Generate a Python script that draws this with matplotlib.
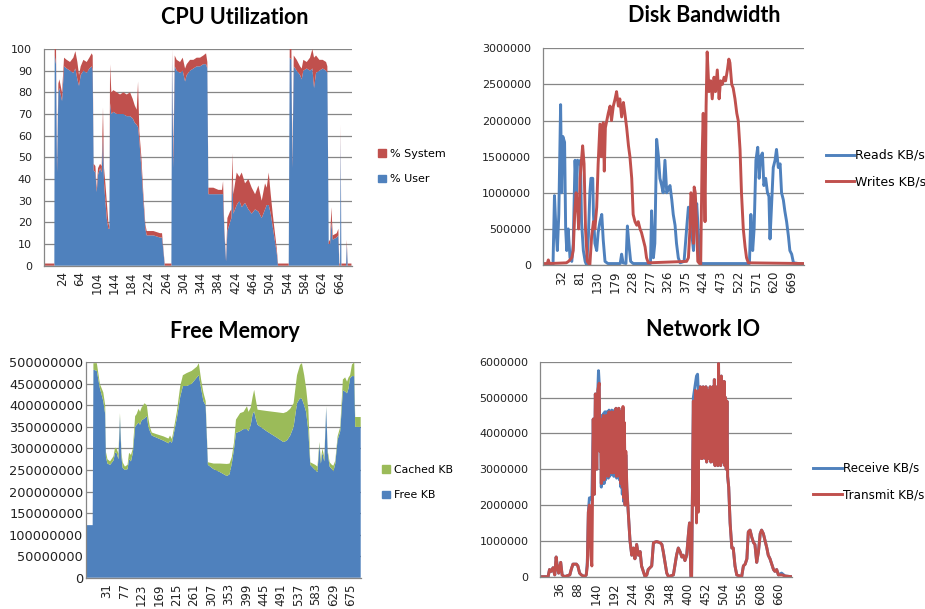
import matplotlib.pyplot as plt
from matplotlib.patches import Patch
from matplotlib.lines import Line2D

plt.rcParams.update({"font.family": "DejaVu Sans", "font.size": 8})

BLUE = "#4F81BD"
RED = "#C0504D"
GREEN = "#9BBB59"
GRID = "#868686"

# ---- CPU Utilization (percent) ----
cpu_x = [-19, 5.6, 6.4, 9.5, 11.8, 14.9, 17.2, 23.4, 28, 34.1, 41.8, 49.5, 54.2, 58.8, 62.6, 66.5,
         72.7, 80.4, 86.5, 91.9, 94.2, 96.5, 100.4, 103.5, 106.5, 111.2, 115, 118, 120.4, 123.5,
         126.6, 130.4, 132.7, 134.3, 137.3, 142, 149.7, 157.4, 165.1, 172.8, 180.5, 186.6, 191.3,
         195.9, 199, 202, 206.7, 211.3, 215.9, 219, 234.4, 249.8, 254.4, 257.5, 260.6, 276, 277.5,
         280.6, 283.7, 288.3, 296, 302.2, 307.6, 311.4, 319.1, 326.9, 334.5, 342.2, 349.9, 356.1,
         359.1, 361.5, 373, 384.6, 393, 395.4, 398.5, 402.3, 405.4, 411.5, 414.6, 416.9, 419.2,
         426.9, 433.1, 438.5, 446.2, 453.9, 461.6, 469.4, 477, 484.7, 492.4, 496.3, 500.9, 505.5,
         510.1, 514.7, 519.4, 522.4, 547.1, 549.4, 553.3, 555.6, 558.7, 565.6, 573.3, 577.1, 580.9,
         588.7, 596.3, 601.8, 605.6, 610.2, 617.9, 625.6, 633.4, 636.4, 639.5, 642.6, 645.7, 648.8,
         658, 661.8, 664.1, 665.7, 667.2, 668.8, 679.6, 681.2, 683.4, 692]
cpu_user = [0, 0, 97, 93, 43, 80, 82, 76, 92, 91, 90, 89, 91, 86, 83, 88,
            90, 89, 91, 92, 90, 44, 43, 34, 42, 45, 43, 60, 38, 30,
            22, 17, 17, 75, 70, 71, 70, 70, 70, 69, 69, 68, 66,
            65, 64, 58, 45, 30, 17, 14, 14, 13, 13, 7, 0, 0, 97,
            45, 92, 90, 89, 90, 85, 88, 90, 91, 92, 92, 93, 93,
            91, 33, 33, 33, 33, 33, 15, 2, 16, 20, 22, 40, 24,
            28, 30, 27, 29, 26, 24, 26, 25, 22, 26, 28, 28, 24,
            18, 12, 6, 0, 0, 96, 95, 45, 92, 90, 88, 86, 90,
            91, 90, 91, 82, 89, 90, 91, 90, 89, 10, 10, 20, 12,
            13, 14, 0, 0, 60, 0, 0, 10, 0, 0]
cpu_system = [1, 1, 3, 7, 4, 4, 4, 4, 4, 4, 4, 7, 8, 8, 5, 4,
              5, 5, 5, 6, 7, 3, 3, 2, 3, 2, 3, 13, 7, 8,
              8, 3, 1, 18, 10, 10, 10, 9, 10, 10, 11, 9, 8,
              7, 21, 4, 5, 3, 2, 2, 2, 2, 2, 1, 1, 1, 3,
              7, 5, 5, 5, 6, 6, 5, 5, 4, 4, 4, 4, 5,
              3, 3, 3, 2, 2, 6, 2, 1, 6, 5, 4, 12, 9,
              15, 11, 16, 9, 14, 12, 7, 12, 8, 12, 8, 15, 9,
              6, 4, 2, 1, 1, 4, 5, 3, 5, 5, 4, 5, 5,
              3, 6, 9, 14, 8, 5, 4, 4, 3, 1, 2, 7, 2,
              2, 3, 1, 1, 5, 1, 1, 2, 1, 1]
cpu_ticks = [24, 64, 104, 144, 184, 224, 264, 304, 344, 384, 424, 464, 504, 544, 584, 624, 664]

# ---- Disk Bandwidth (millions of KB/s) ----
reads_x = [-20, 8, 12, 16, 20, 24, 29, 32, 35, 40, 43, 46, 50, 55, 60, 64, 69, 73, 76, 81, 84, 87,
           92, 97, 101, 106, 110, 113, 118, 120, 124, 129, 133, 138, 143, 147, 152, 160, 194, 198,
           202, 210, 214, 218, 223, 230, 278, 281, 286, 290, 295, 300, 304, 309, 313, 318, 323, 327,
           332, 337, 341, 346, 350, 355, 360, 371, 378, 383, 387, 392, 397, 401, 406, 410, 415, 420,
           552, 556, 561, 565, 570, 575, 579, 583, 588, 592, 597, 602, 606, 609, 614, 618, 623, 627,
           632, 637, 641, 646, 650, 655, 660, 664, 669, 674, 704]
reads = [0.01, 0.01, 0.96, 0.5, 0.2, 0.7, 2.22, 1.0, 1.78, 1.7, 0.5, 0.2, 0.5, 0.1, 0.05, 0.3,
         1.45, 1.0, 1.45, 1.4, 1.45, 0.6, 0.2, 0.05, 0.0, 0.4, 1.0, 1.2, 1.2, 0.7, 0.3, 0.2, 0.45,
         0.6, 0.7, 0.35, 0.05, 0.02, 0.02, 0.15, 0.03, 0.02, 0.54, 0.3, 0.05, 0.02, 0.02, 0.75,
         0.1, 0.3, 1.74, 1.5, 1.2, 1.1, 1.0, 1.45, 1.0, 1.05, 1.1, 0.9, 0.7, 0.55, 0.3, 0.1, 0.03,
         0.05, 0.5, 0.8, 0.75, 0.45, 0.2, 0.6, 0.85, 0.5, 0.05, 0.02, 0.02, 0.7, 0.2, 0.5, 1.45,
         1.63, 1.2, 1.5, 1.55, 1.1, 1.2, 1.0, 0.95, 0.36, 0.9, 1.35, 1.45, 1.6, 1.35, 1.4, 1.0,
         0.9, 0.75, 0.6, 0.4, 0.2, 0.15, 0.03, 0.01]
writes_x = [-20, -8, -5, -2, 45, 51, 60, 64, 68, 72, 76, 79, 83, 90, 94, 98, 103, 110, 115, 120,
            124, 129, 133, 138, 142, 147, 150, 153, 157, 161, 166, 170, 175, 180, 184, 189, 193,
            198, 203, 207, 212, 217, 221, 226, 230, 235, 240, 244, 249, 253, 258, 263, 267, 272,
            378, 383, 387, 390, 394, 397, 399, 402, 406, 409, 417, 421, 424, 429, 432, 435, 440,
            445, 449, 454, 458, 463, 468, 472, 477, 482, 486, 491, 495, 498, 503, 507, 512, 517,
            521, 526, 530, 535, 540, 544, 549, 704]
writes = [0.02, 0.02, 0.07, 0.02, 0.03, 0.05, 0.1, 0.2, 0.7, 1.0, 0.8, 0.5, 1.2, 1.65, 1.4, 0.5,
          0.05, 0.0, 0.4, 0.6, 0.5, 0.8, 1.4, 1.95, 1.5, 1.97, 1.3, 1.9, 2.0, 2.1, 2.2, 2.0, 2.2,
          2.3, 2.4, 2.2, 2.3, 2.05, 2.25, 2.1, 1.9, 1.65, 1.5, 1.2, 0.7, 0.6, 0.55, 0.6, 0.5, 0.45,
          0.35, 0.25, 0.1, 0.03, 0.05, 0.1, 0.47, 1.0, 0.9, 0.3, 1.08, 1.0, 0.5, 0.05, 0.0, 1.5,
          2.1, 0.6, 2.2, 2.95, 2.4, 2.55, 2.3, 2.6, 2.4, 2.7, 2.3, 2.55, 2.5, 2.6, 2.55, 2.7, 2.85,
          2.8, 2.5, 2.45, 2.3, 2.1, 2.0, 1.6, 1.0, 0.5, 0.25, 0.1, 0.03, 0.02]
disk_ticks = [32, 81, 130, 179, 228, 277, 326, 375, 424, 473, 522, 571, 620, 669]

# ---- Free Memory (millions of KB) ----
mem_x = [-23.5, -6, -4, 5, 13, 22, 27, 29, 33, 40, 49, 53, 57, 62, 66, 70, 73, 79, 86, 90, 95, 100,
         106, 110, 115, 119, 123, 131, 137, 141, 145, 150, 163, 181, 194, 198, 203, 207, 216, 225,
         232, 242, 255, 269, 274, 280, 286, 292, 298, 313, 330, 348, 355, 361, 367, 372, 383, 392,
         401, 405, 411, 416, 420, 424, 429, 453, 480, 497, 506, 515, 524, 533, 541, 546, 552, 557,
         563, 568, 581, 587, 592, 596, 600, 605, 610, 614, 619, 625, 629, 634, 640, 647, 654, 660,
         665, 669, 673, 678, 684, 686.5, 701]
mem_free = [122, 122, 483, 480, 440, 410, 380, 280, 265, 262, 272, 290, 290, 275, 375, 280, 255,
            250, 252, 275, 270, 290, 350, 355, 360, 355, 365, 370, 375, 350, 340, 330, 325, 318,
            312, 318, 313, 330, 370, 420, 445, 445, 450, 465, 470, 440, 410, 400, 262, 252, 245,
            236, 240, 265, 300, 336, 340, 345, 345, 340, 355, 380, 386, 370, 355, 340, 325, 315,
            318, 330, 350, 405, 417, 415, 400, 385, 340, 262, 250, 245, 310, 265, 290, 270, 395,
            290, 258, 252, 247, 265, 320, 340, 435, 432, 428, 440, 463, 468, 468, 350, 350]
mem_cached = [0, 0, 15, 18, 10, 20, 20, 12, 10, 8, 10, 12, 10, 13, 7, 10, 13, 8, 10, 15, 15, 10,
              25, 25, 32, 30, 30, 35, 25, 20, 10, 7, 8, 10, 11, 12, 9, 10, 15, 25, 25, 30, 30,
              25, 28, 20, 20, 10, 6, 13, 20, 28, 25, 15, 15, 31, 42, 40, 53, 45, 40, 40, 50, 45,
              35, 47, 59, 67, 67, 62, 55, 65, 77, 83, 70, 55, 50, 6, 12, 13, 5, 10, 10, 10, 3, 5,
              10, 10, 13, 7, 8, 10, 25, 33, 27, 25, 7, 27, 32, 23, 23]
mem_ticks = [31, 77, 123, 169, 215, 261, 307, 353, 399, 445, 491, 537, 583, 629, 675]

# ---- Network IO (millions of KB/s) ----
tx_x = [-20, 2, 6, 11, 16, 21, 25, 28, 32, 38, 42, 49, 64, 68, 73, 83, 87, 92, 97, 106, 111, 114,
        117, 120, 124, 127, 131, 134, 137, 141, 144, 148, 150,
        152, 154, 156, 158, 160, 162, 164, 166, 168, 170, 172, 174, 176, 178, 180, 182, 184, 186,
        188, 190, 192, 194, 196, 198, 200, 202, 204, 206, 208, 210, 212, 214, 216, 218, 220, 222,
        224, 227, 231, 236, 241, 246, 250, 255, 260, 265, 269, 274, 279, 284, 288, 293, 298, 303,
        312, 322, 327, 331, 336, 341, 346, 360, 369, 374, 379, 384, 388, 393, 398, 403, 406, 410,
        412, 417, 420, 423, 426, 429, 431,
        433, 435, 437, 439, 441, 443, 445, 447, 449, 451, 453, 455, 457, 459, 461, 463, 465, 467,
        469, 471, 473, 475, 477, 479, 481, 483, 485, 487, 489, 491, 493, 495, 497, 499, 501, 503,
        505, 507, 509, 511, 513, 515, 518, 522, 527, 531, 536, 541, 555, 560, 565, 570, 574, 579,
        584, 589, 593, 598, 603, 608, 612, 617, 622, 627, 631, 636, 646, 650, 655, 660, 670, 679,
        698]
transmit = [0.0, 0.0, 0.2, 0.15, 0.25, 0.05, 0.55, 0.3, 0.1, 0.4, 0.05, 0.0, 0.05, 0.2, 0.35, 0.35,
            0.3, 0.1, 0.05, 0.0, 0.05, 0.3, 1.8, 2.0, 0.6, 0.3, 4.4, 2.3, 5.1, 3.0, 5.2, 5.4, 3.5,
            4.3, 2.6, 4.4, 2.7, 4.5, 2.7, 4.3, 2.8, 4.5, 2.9, 4.4, 2.8, 4.6, 2.9, 4.5, 2.9, 4.6,
            2.9, 4.4, 2.9, 4.6, 2.9, 4.7, 2.8, 4.5, 2.9, 4.7, 2.8, 4.6, 2.6, 4.5, 2.5, 4.75, 2.2,
            4.3, 2.0, 3.5, 2.5, 1.8, 1.0, 0.6, 0.8, 0.5, 0.9, 0.6, 0.7, 0.3, 0.15, 0.0, 0.05, 0.2,
            0.25, 0.3, 0.95, 0.98, 0.95, 0.9, 0.7, 0.4, 0.1, 0.0, 0.05, 0.6, 0.8, 0.7, 0.55, 0.6,
            0.45, 0.6, 1.2, 1.5, 0.0, 0.0, 4.9, 2.0, 5.2, 1.5, 5.1, 1.8,
            5.2, 3.4, 5.3, 3.3, 5.2, 3.3, 5.3, 3.4, 5.2, 3.3, 5.3, 3.2, 5.2, 3.3, 5.1, 3.3, 5.3,
            3.2, 5.25, 3.3, 5.3, 3.2, 5.5, 3.1, 5.2, 3.2, 5.3, 3.1, 5.95, 3.2, 5.4, 3.1, 5.6, 3.2,
            5.1, 3.2, 5.45, 3.1, 5.0, 3.0, 4.9, 2.8, 2.5, 1.5, 0.8, 0.8, 0.3, 0.05, 0.0, 0.3, 0.35,
            0.5, 1.25, 1.3, 1.1, 0.95, 0.9, 0.4, 0.7, 1.2, 1.3, 1.2, 1.0, 0.8, 0.6, 0.5, 0.2, 0.15,
            0.2, 0.05, 0.05, 0.02, 0.0]
rx_x = [-20, 2, 6, 11, 16, 21, 25, 28, 32, 38, 42, 49, 64, 68, 73, 83, 87, 92, 97, 106, 111, 114,
        117, 120, 124, 127, 131, 134, 137, 141, 144, 146, 148, 150,
        152, 154, 156, 158, 160, 162, 164, 166, 168, 170, 172, 174, 176, 178, 180, 182, 184, 186,
        188, 190, 192, 194, 196, 198, 200, 202, 204, 206, 208, 210, 212, 214, 216, 218, 220, 222,
        224, 227, 231, 236, 241, 246, 250, 255, 260, 265, 269, 274, 279, 284, 288, 293, 298, 303,
        312, 322, 327, 331, 336, 341, 346, 360, 369, 374, 379, 384, 388, 393, 398, 403, 406, 410,
        412, 417, 420, 423, 426, 429, 431,
        433, 435, 437, 439, 441, 443, 445, 447, 449, 451, 453, 455, 457, 459, 461, 463, 465, 467,
        469, 471, 473, 475, 477, 479, 481, 483, 485, 487, 489, 491, 493, 495, 497, 499, 501, 503,
        505, 507, 509, 511, 513, 515, 518, 522, 527, 531, 536, 541, 555, 560, 565, 570, 574, 579,
        584, 589, 593, 598, 603, 608, 612, 617, 622, 627, 631, 636, 646, 650, 655, 660, 669, 679,
        698]
receive = [0.0, 0.0, 0.2, 0.15, 0.25, 0.05, 0.55, 0.3, 0.1, 0.4, 0.05, 0.0, 0.05, 0.2, 0.35, 0.35,
           0.3, 0.1, 0.05, 0.0, 0.05, 0.4, 1.8, 2.2, 2.2, 2.15, 4.4, 2.3, 5.1, 3.0, 5.2, 5.75, 5.4,
           3.5,
           4.4, 2.5, 4.5, 2.6, 4.55, 2.6, 4.6, 2.7, 4.6, 2.8, 4.6, 2.75, 4.65, 2.8, 4.6, 2.85, 4.65,
           2.85, 4.6, 2.8, 4.65, 2.85, 4.7, 2.75, 4.6, 2.8, 4.7, 2.7, 4.6, 2.5, 4.5, 2.3, 4.7, 2.1,
           4.2, 2.0, 3.4, 2.4, 1.8, 1.0, 0.6, 0.8, 0.5, 0.9, 0.6, 0.7, 0.3, 0.15, 0.0, 0.05, 0.2,
           0.25, 0.3, 0.95, 0.98, 0.95, 0.9, 0.7, 0.4, 0.1, 0.0, 0.05, 0.6, 0.8, 0.7, 0.55, 0.6,
           0.45, 0.6, 1.2, 1.5, 0.0, 0.0, 5.0, 5.2, 5.4, 5.6, 5.65, 5.2,
           5.2, 3.4, 5.3, 3.3, 5.2, 3.3, 5.3, 3.4, 5.2, 3.3, 5.3, 3.2, 5.2, 3.3, 5.1, 3.3, 5.3,
           3.2, 5.25, 3.3, 5.3, 3.2, 5.5, 3.1, 5.2, 3.2, 5.3, 3.1, 5.95, 3.2, 5.4, 3.1, 5.6, 3.2,
           5.1, 3.2, 5.45, 3.1, 5.0, 3.0, 4.9, 2.8, 2.5, 1.5, 0.8, 0.8, 0.3, 0.05, 0.0, 0.3, 0.35,
           0.5, 1.25, 1.3, 1.1, 0.95, 0.9, 0.4, 0.7, 1.2, 1.3, 1.2, 1.0, 0.8, 0.6, 0.5, 0.2, 0.15,
           0.2, 0.05, 0.1, 0.02, 0.0]
net_ticks = [36, 88, 140, 192, 244, 296, 348, 400, 452, 504, 556, 608, 660]


def style(ax, xlim, xticks, ytop, ystep, scale, ylabsize=8, ypad=8.5):
    ax.set_xlim(*xlim)
    ax.set_ylim(0, ytop)
    yt = []
    v = 0
    while v <= ytop + 1e-9:
        yt.append(v)
        v += ystep
    ax.set_yticks(yt)
    ax.set_yticklabels([str(int(round(t * scale))) for t in yt], fontsize=ylabsize)
    ax.set_xticks(xticks)
    ax.set_xticklabels([str(t) for t in xticks], rotation=90, fontsize=8.5)
    ax.tick_params(axis="both", length=0, colors="#222222")
    ax.tick_params(axis="x", pad=4)
    ax.tick_params(axis="y", pad=ypad)
    ax.grid(axis="y", color=GRID, lw=0.9)
    ax.grid(axis="x", visible=False)
    ax.set_axisbelow(True)
    for s in ["top", "right"]:
        ax.spines[s].set_visible(False)
    for s in ["left", "bottom"]:
        ax.spines[s].set_color(GRID)
        ax.spines[s].set_linewidth(0.9)


fig = plt.figure(figsize=(9.25, 6.09), dpi=100)
W, H = 925.0, 609.0


def axes_px(l, t, r, b):
    return fig.add_axes([l / W, 1 - b / H, (r - l) / W, (b - t) / H])


title_kw = dict(fontsize=15.5, fontweight="bold", family="Lato", ha="center", va="center")

# CPU
ax1 = axes_px(43.7, 49, 351.7, 265.7)
ax1.stackplot(cpu_x, cpu_user, cpu_system, colors=[BLUE, RED], lw=0)
style(ax1, (-19, 692.6), cpu_ticks, 100, 10, 1)
fig.text(234.5 / W, 1 - 17 / H, "CPU Utilization", **title_kw)
fig.legend([Patch(color=RED), Patch(color=BLUE)], ["% System", "% User"],
           loc="center left", bbox_to_anchor=(378 / W, 1 - 166.5 / H), frameon=False,
           handlelength=0.7, handleheight=0.7, handletextpad=0.4, labelspacing=1.4,
           borderpad=0, borderaxespad=0, fontsize=8)

# Disk
ax2 = axes_px(542.7, 48.3, 804.3, 265)
ax2.plot(reads_x, reads, color=BLUE, lw=2.1, solid_joinstyle="round")
ax2.plot(writes_x, writes, color=RED, lw=2.1, solid_joinstyle="round")
style(ax2, (-20.6, 704), disk_ticks, 3.0, 0.5, 1e6)
fig.text(704 / W, 1 - 16 / H, "Disk Bandwidth", **title_kw)
fig.legend([Line2D([], [], color=BLUE, lw=2.1), Line2D([], [], color=RED, lw=2.1)],
           ["Reads KB/s", "Writes KB/s"],
           loc="center left", bbox_to_anchor=(826 / W, 1 - 168.5 / H), frameon=False,
           handlelength=2.2, handletextpad=0.1, labelspacing=1.05,
           borderpad=0, borderaxespad=0, fontsize=9)

# Memory
ax3 = axes_px(86, 362.3, 360.7, 577.7)
ax3.stackplot(mem_x, mem_free, mem_cached, colors=[BLUE, GREEN], lw=0)
style(ax3, (-23.6, 701), mem_ticks, 500, 50, 1e6, ylabsize=9.3, ypad=2)
fig.text(234.5 / W, 1 - 331.5 / H, "Free Memory", **title_kw)
fig.legend([Patch(color=GREEN), Patch(color=BLUE)], ["Cached KB", "Free KB"],
           loc="center left", bbox_to_anchor=(382 / W, 1 - 482.5 / H), frameon=False,
           handlelength=0.7, handleheight=0.7, handletextpad=0.4, labelspacing=1.4,
           borderpad=0, borderaxespad=0, fontsize=7.8)

# Network
ax4 = axes_px(540.3, 361.7, 791.7, 576.7)
ax4.plot(rx_x, receive, color=BLUE, lw=2.1, solid_joinstyle="round")
ax4.plot(tx_x, transmit, color=RED, lw=2.1, solid_joinstyle="round")
style(ax4, (-20.3, 698), net_ticks, 6.0, 1.0, 1e6)
fig.text(703 / W, 1 - 330 / H, "Network IO", **title_kw)
fig.legend([Line2D([], [], color=BLUE, lw=2.1), Line2D([], [], color=RED, lw=2.1)],
           ["Receive KB/s", "Transmit KB/s"],
           loc="center left", bbox_to_anchor=(813 / W, 1 - 481.5 / H), frameon=False,
           handlelength=2.4, handletextpad=0.1, labelspacing=1.1,
           borderpad=0, borderaxespad=0, fontsize=8.6)

fig.savefig("out.png", dpi=100)
